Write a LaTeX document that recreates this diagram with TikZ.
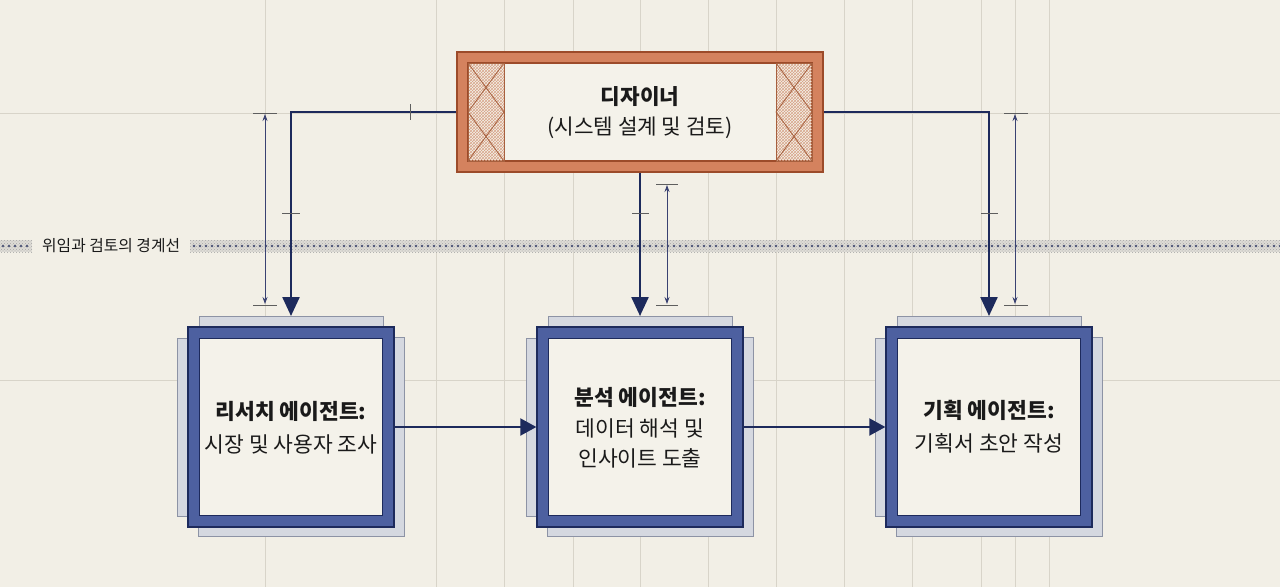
\documentclass[tikz,border=0pt]{standalone}
\usepackage{fontspec}
\setmainfont{Noto Sans CJK KR}
\usetikzlibrary{arrows.meta,patterns}
\definecolor{bg}{HTML}{F2EFE6}
\definecolor{gridc}{HTML}{D8D4C9}
\definecolor{navy}{HTML}{1D2A5C}
\definecolor{bluef}{HTML}{4D60A0}
\definecolor{cream}{HTML}{F4F2EA}
\definecolor{shadowf}{HTML}{D5D8E0}
\definecolor{shadowd}{HTML}{8D93A5}
\definecolor{orf}{HTML}{D4825E}
\definecolor{ord}{HTML}{9C4B2A}
\definecolor{orh}{HTML}{D8A489}
\definecolor{orx}{HTML}{A7603E}
\definecolor{dimc}{HTML}{3A4272}
\definecolor{tickc}{HTML}{5E5E5E}
\definecolor{txt}{HTML}{1A1A1A}
\definecolor{bandf}{HTML}{DEDCD6}
\definecolor{dotc}{HTML}{4A5275}
\tikzset{
  gridline/.style={gridc, line width=0.8pt},
  conn/.style={navy, line width=2.4pt, -{Triangle[length=19pt,width=17pt]}},
  hconn/.style={navy, line width=2pt, -{Triangle[length=16pt,width=17pt]}},
  dimline/.style={dimc, line width=0.8pt, {Stealth[length=7pt,width=5pt]}-{Stealth[length=7pt,width=5pt]}},
  tickmark/.style={tickc, line width=1pt},
  shadowbox/.style={draw=shadowd, fill=shadowf, line width=0.9pt, inner sep=0pt},
  agentouter/.style={draw=navy, fill=bluef, line width=1.3pt, inner sep=0pt, minimum width=206pt, minimum height=200pt},
  agentinner/.style={draw=navy, fill=cream, line width=1.3pt, inner sep=0pt, minimum width=183pt, minimum height=177pt},
  agenttext/.style={text=txt, align=center, font=\fontsize{21.5pt}{33pt}\selectfont},
  hatchx/.style={orx, line width=0.8pt},
  dots/.style={dotc, line width=2.8pt, line cap=round, dash pattern=on 0pt off 6pt},
}
\begin{document}
\begin{tikzpicture}[x=1pt,y=-1pt]
\fill[bg] (0,0) rectangle (1280,587);
\useasboundingbox (0,0) rectangle (1280,587);
% grid
\foreach \gx in {265,436,504,573,640,708,776,844,912,981,1015,1049}
  \draw[gridline] (\gx,0) -- (\gx,587);
\foreach \gy in {113,380}
  \draw[gridline] (0,\gy) -- (1280,\gy);
% boundary band
\fill[bandf] (0,240) rectangle (32,252);
\fill[pattern=crosshatch dots, pattern color=gray!70] (0,240) rectangle (32,252);
\fill[bandf] (190,240) rectangle (1280,252);
\fill[pattern=crosshatch dots, pattern color=gray!70] (190,240) rectangle (1280,252);
\draw[dots] (3,246) -- (30,246);
\draw[dots] (194,246) -- (1280,246);
\node[anchor=west, text=txt, font=\fontsize{15.8pt}{18pt}\selectfont, inner sep=0pt] (band) at (42,246) {위임과 검토의 경계선};
% designer box
\node[draw=ord, fill=orf, line width=1.2pt, minimum width=366pt, minimum height=120pt, inner sep=0pt] (des) at (640,112) {};
\node[draw=ord, fill=cream, line width=1.2pt, minimum width=344pt, minimum height=98pt, inner sep=0pt] (desin) at (640,112) {};
\foreach \xa in {468,776}{
  \fill[pattern=crosshatch, pattern color=orh] (\xa,63) rectangle ++(36,98);
  \draw[hatchx] (\xa,63) rectangle ++(36,98);
  \draw[hatchx] (\xa,63) -- (\xa+36,112) -- (\xa,161);
  \draw[hatchx] (\xa+36,63) -- (\xa,112) -- (\xa+36,161);
}
\node[text=txt, align=center, font=\fontsize{21.3pt}{30pt}\selectfont] (dest) at (640,113) {\textbf{디자이너}\\(시스템 설계 및 검토)};
% agent boxes
\foreach \n/\cx in {a1/291,a2/640,a3/989}{
  \node[shadowbox, anchor=north, minimum width=184pt, minimum height=110pt] (\n p) at (\cx,316) {};
  \node[shadowbox, anchor=north west, minimum width=100pt, minimum height=178pt] (\n q) at (\cx-114,338) {};
  \node[shadowbox, anchor=south east, minimum width=206pt, minimum height=199pt] (\n r) at (\cx+114,537) {};
  \node[agentouter] (\n) at (\cx,427) {};
  \node[agentinner] (\n i) at (\cx,427) {};
}
\node[agenttext] (a1t) at (291,428) {\textbf{리서치 에이전트:}\\시장 및 사용자 조사};
\node[agenttext, font=\fontsize{21.5pt}{30.5pt}\selectfont] (a2t) at (640,428) {\textbf{분석 에이전트:}\\데이터 해석 및\\인사이트 도출};
\node[agenttext] (a3t) at (989,427) {\textbf{기획 에이전트:}\\기획서 초안 작성};
% connectors
\draw[conn] (des.west) -| (a1p.north);
\draw[conn] (des.south) -- (a2p.north);
\draw[conn] (des.east) -| (a3p.north);
\draw[hconn] (a1.east) -- (a2.west);
\draw[hconn] (a2.east) -- (a3.west);
% ticks on connectors
\draw[tickmark] (282,213) -- (300,213);
\draw[tickmark] (632,213) -- (649,213);
\draw[tickmark] (981,213) -- (998,213);
\draw[tickmark] (410,104) -- (410,120);
% dimension lines
\draw[tickmark] (253,113) -- (277,113);
\draw[tickmark] (253,305) -- (277,305);
\draw[dimline] (265,114) -- (265,304);
\draw[tickmark] (656,184) -- (678,184);
\draw[tickmark] (656,305) -- (678,305);
\draw[dimline] (667,185) -- (667,304);
\draw[tickmark] (1004,113) -- (1028,113);
\draw[tickmark] (1004,305) -- (1028,305);
\draw[dimline] (1015,114) -- (1015,304);
\end{tikzpicture}
\end{document}
